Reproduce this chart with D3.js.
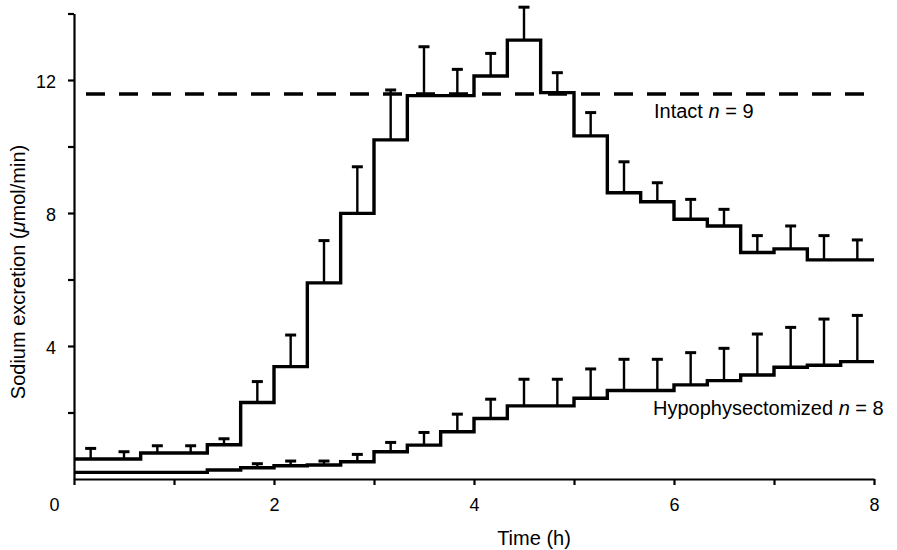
<!DOCTYPE html>
<html>
<head>
<meta charset="utf-8">
<script src="https://cdn.jsdelivr.net/npm/d3@7"></script>
<style>
  html, body { margin: 0; padding: 0; background: #fff; }
  svg { display: block; }
  text { font-family: "Liberation Sans", Arial, Helvetica, sans-serif; fill: #000; }
</style>
</head>
<body>
<svg id="chart" width="897" height="550"></svg>
<script>
// ---- data (20-min collection periods, start time in hours) ----
const periodStart = [0, 1/3, 2/3, 1, 4/3, 5/3, 2, 7/3, 8/3, 3, 10/3, 11/3,
                     4, 13/3, 14/3, 5, 16/3, 17/3, 6, 19/3, 20/3, 7, 22/3, 23/3];
const periodEnd = 8;

const intactMean = [0.60, 0.60, 0.78, 0.78, 1.03, 2.30, 3.38, 5.90, 7.99, 10.20, 11.53, 11.53,
                    12.12, 13.20, 11.62, 10.32, 8.61, 8.34, 7.81, 7.61, 6.81, 6.92, 6.59, 6.59];
const intactSem  = [0.32, 0.22, 0.22, 0.22, 0.18, 0.63, 0.95, 1.27, 1.40, 1.50, 1.47, 0.79,
                    0.68, 0.99, 0.60, 0.70, 0.93, 0.57, 0.60, 0.50, 0.51, 0.69, 0.73, 0.60];

const hypoMean = [0.20, 0.20, 0.20, 0.20, 0.27, 0.34, 0.40, 0.42, 0.52, 0.82, 1.02, 1.42,
                  1.82, 2.20, 2.20, 2.43, 2.66, 2.66, 2.83, 2.96, 3.13, 3.36, 3.42, 3.53];
const hypoSem  = [0, 0, 0, 0, 0, 0.12, 0.14, 0.12, 0.22, 0.28, 0.38, 0.53,
                  0.58, 0.80, 0.80, 0.88, 0.94, 0.94, 0.97, 0.97, 1.23, 1.20, 1.39, 1.39];

const intactBaseline = 11.58;
const baselineStart = 0.12;

const xTicks = [0, 1, 2, 3, 4, 5, 6, 7, 8];
const xTickLabels = ["0", "", "2", "", "4", "", "6", "", "8"];
const yTicks = [2, 4, 6, 8, 10, 12, 14];
const yTickLabels = ["", "4", "", "8", "", "12", ""];

const intactLabel = "Intact";
const intactN = "9";
const hypoLabel = "Hypophysectomized";
const hypoN = "8";

// ---- scales ----
const svg = d3.select("#chart");
const x = d3.scaleLinear().domain([0, 8]).range([74, 874]);
const y = d3.scaleLinear().domain([0, 14]).range([479, 13.5]);

// ---- axes ----
const xAxis = d3.axisBottom(x)
  .tickValues(xTicks)
  .tickFormat((d, i) => xTickLabels[i])
  .tickSizeInner(6).tickSizeOuter(0).tickPadding(13);
const gx = svg.append("g").attr("transform", `translate(0,${y(0)})`).call(xAxis);

const yAxis = d3.axisLeft(y)
  .tickValues(yTicks)
  .tickFormat((d, i) => yTickLabels[i])
  .tickSizeInner(6).tickSizeOuter(0).tickPadding(12);
const gy = svg.append("g").attr("transform", `translate(${x(0)},0)`).call(yAxis);

[gx, gy].forEach(g => {
  g.select(".domain").attr("stroke", "#000").attr("stroke-width", 2.2);
  g.selectAll(".tick line").attr("stroke", "#000").attr("stroke-width", 2.2);
  g.selectAll(".tick text").attr("font-size", 18).attr("fill", "#000")
    .style("font-family", '"Liberation Sans", Arial, sans-serif');
});
// "0" label sits at the corner, left of the origin
gx.selectAll(".tick").filter(d => d === 0).select("text").attr("x", -20);
gy.selectAll(".tick text").attr("dy", "0.42em");

// axis titles
svg.append("text")
  .attr("x", x(4.6)).attr("y", 545)
  .attr("text-anchor", "middle").attr("font-size", 20)
  .text("Time (h)");

const yl = svg.append("text")
  .attr("transform", `translate(25,272) rotate(-90)`)
  .attr("text-anchor", "middle").attr("font-size", 20);
yl.append("tspan").text("Sodium excretion (");
yl.append("tspan").attr("font-style", "italic").text("\u03bc");
yl.append("tspan").text("mol/min)");

// ---- dashed intact baseline ----
svg.append("line")
  .attr("x1", x(baselineStart)).attr("x2", x(periodEnd) + 1)
  .attr("y1", y(intactBaseline)).attr("y2", y(intactBaseline))
  .attr("stroke", "#000").attr("stroke-width", 3.5)
  .attr("stroke-dasharray", "19,14");

// ---- step series with error bars ----
function drawSeries(means, sems) {
  const pts = periodStart.map((t, i) => [t, means[i]]);
  pts.push([periodEnd, means[means.length - 1]]);
  const line = d3.line().x(d => x(d[0])).y(d => y(d[1])).curve(d3.curveStepAfter);

  const g = svg.append("g");
  const bars = periodStart.map((t, i) => ({
    xm: t + (i + 1 < periodStart.length ? periodStart[i + 1] - t : periodEnd - t) / 2,
    m: means[i], s: sems[i]
  })).filter(d => d.s > 0);

  g.selectAll("line.stem").data(bars).join("line")
    .attr("class", "stem")
    .attr("x1", d => x(d.xm)).attr("x2", d => x(d.xm))
    .attr("y1", d => y(d.m)).attr("y2", d => y(d.m + d.s))
    .attr("stroke", "#000").attr("stroke-width", 2.4);
  g.selectAll("line.cap").data(bars).join("line")
    .attr("class", "cap")
    .attr("x1", d => x(d.xm) - 5.5).attr("x2", d => x(d.xm) + 5.5)
    .attr("y1", d => y(d.m + d.s)).attr("y2", d => y(d.m + d.s))
    .attr("stroke", "#000").attr("stroke-width", 3);

  g.append("path").datum(pts)
    .attr("d", line)
    .attr("fill", "none").attr("stroke", "#000")
    .attr("stroke-width", 3.4).attr("stroke-linejoin", "miter");
}
drawSeries(intactMean, intactSem);
drawSeries(hypoMean, hypoSem);

// ---- annotations ----
function label(xv, yBase, name, n) {
  const t = svg.append("text").attr("x", xv).attr("y", yBase).attr("font-size", 20);
  t.append("tspan").text(name + " ");
  t.append("tspan").attr("font-style", "italic").text("n");
  t.append("tspan").text(" = " + n);
}
label(654, 118, intactLabel, intactN);
label(653, 415, hypoLabel, hypoN);
</script>
</body>
</html>
